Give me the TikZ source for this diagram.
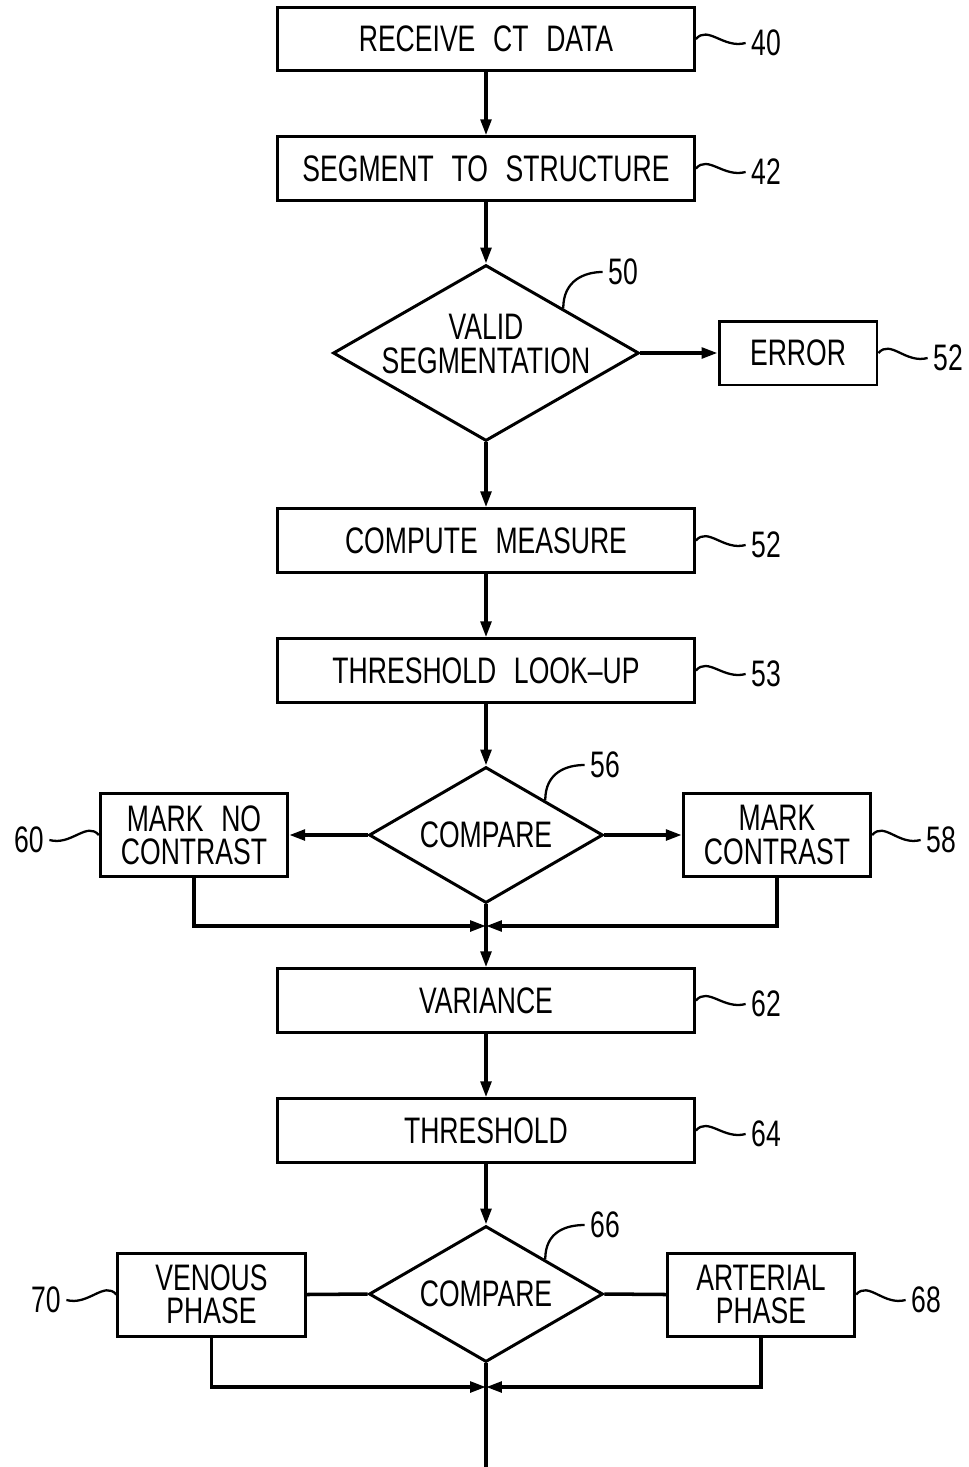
\documentclass[tikz,border=0pt]{standalone}
\usepackage{fontspec}
\setmainfont{Liberation Sans}[FakeStretch=0.72,WordSpace=2.4]
\usetikzlibrary{shapes.geometric,arrows.meta,calc}
\begin{document}
\begin{tikzpicture}[x=0.02cm,y=-0.02cm,
  font=\fontsize{21}{19}\selectfont,
  box/.style={draw,line width=1.7pt,rectangle,minimum width=8.34cm,minimum height=1.27cm,inner sep=0pt,align=center},
  sbox/.style={draw,line width=1.7pt,rectangle,minimum width=3.75cm,minimum height=1.66cm,inner sep=0pt,align=center},
  dia/.style={draw,line width=1.7pt,diamond,inner sep=-2pt,align=center,shape aspect=1.73},
  conn/.style={line width=2pt},
  arr/.style={conn,-{Triangle[length=9pt,width=6pt]}},
  lead/.style={line width=1.3pt},
  num/.style={inner sep=0pt,inner xsep=3pt},
  txt/.style={inner sep=0pt,align=center}
]
\useasboundingbox (0,0) rectangle (968,1467);

% main nodes
\node[box] (n40) at (486,39) {RECEIVE CT DATA};
\node[box] (n42) at (486,168.5) {SEGMENT TO STRUCTURE};
\node[dia,minimum width=6.12cm,minimum height=3.52cm] (d50) at (486,353) {};
\node[txt] (t50) at (486,344) {VALID\\SEGMENTATION};
\node[box,minimum width=3.16cm,minimum height=1.28cm] (err) at (798,353) {ERROR};
\node[box] (n52) at (486,540.5) {COMPUTE MEASURE};
\node[box] (n53) at (486,670.5) {THRESHOLD LOOK--UP};
\node[dia,minimum width=4.68cm,minimum height=2.72cm] (d56) at (486,835) {COMPARE};
\node[sbox] (nc) at (194,835) {MARK NO\\CONTRAST};
\node[sbox] (mc) at (777,835) {MARK\\CONTRAST};
\node[box] (n62) at (486,1000.5) {VARIANCE};
\node[box] (n64) at (486,1130.5) {THRESHOLD};
\node[dia,minimum width=4.68cm,minimum height=2.72cm] (d66) at (486,1294) {COMPARE};
\node[sbox] (vp) at (211.5,1294.5) {VENOUS\\PHASE};
\node[sbox] (ap) at (761,1294.5) {ARTERIAL\\PHASE};

\coordinate (j1) at (486,926);
\coordinate (j2) at (486,1387);
\coordinate (endpt) at (486,1467);

% connectors
\draw[arr] (n40) -- (n42);
\draw[arr] (n42) -- (d50);
\draw[arr] (d50.east) -- (err.west);
\draw[arr] (d50) -- (n52);
\draw[arr] (n52) -- (n53);
\draw[arr] (n53) -- (d56);
\draw[arr] (d56.west) -- (nc.east);
\draw[arr] (d56.east) -- (mc.west);
\draw[arr] (nc.south) |- (j1);
\draw[arr] (mc.south) |- (j1);
\draw[arr] (d56.south) -- (n62.north);
\draw[arr] (n62) -- (n64);
\draw[arr] (n64) -- (d66);
\draw[conn] (d66.west) -- (vp.east);
\draw[conn] (d66.east) -- (ap.west);
\draw[arr] (vp.south) |- (j2);
\draw[arr] (ap.south) |- (j2);
\draw[conn] (d66.south) -- (endpt);

% reference numerals
\node[num] (l40) at (766,43) {40};
\node[num] (l42) at (766,172) {42};
\node[num] (l50) at (623,272) {50};
\node[num] (le52) at (948,358) {52};
\node[num] (l52) at (766,545) {52};
\node[num] (l53) at (766,674) {53};
\node[num] (l56) at (605,765) {56};
\node[num] (l60) at (29,840) {60};
\node[num] (l58) at (941,840) {58};
\node[num] (l62) at (766,1004) {62};
\node[num] (l64) at (766,1134) {64};
\node[num] (l66) at (605,1225) {66};
\node[num] (l70) at (46,1300) {70};
\node[num] (l68) at (926,1300) {68};

% leaders
\foreach \b/\l in {n40/l40,n42/l42,err/le52,n52/l52,n53/l53,mc/l58,n62/l62,n64/l64,ap/l68}{
  \draw[lead] (\b.east) .. controls +(12,-14) and +(-22,6) .. (\l.west);
}
\foreach \b/\l in {nc/l60,vp/l70}{
  \draw[lead] (\b.west) .. controls +(-12,-14) and +(22,6) .. (\l.east);
}
\foreach \d/\l in {d50/l50,d56/l56,d66/l66}{
  \draw[lead] ($(\d.north)!0.5!(\d.east)$) .. controls +(0,-28) and +(-18,0) .. (\l.west);
}
\end{tikzpicture}
\end{document}
